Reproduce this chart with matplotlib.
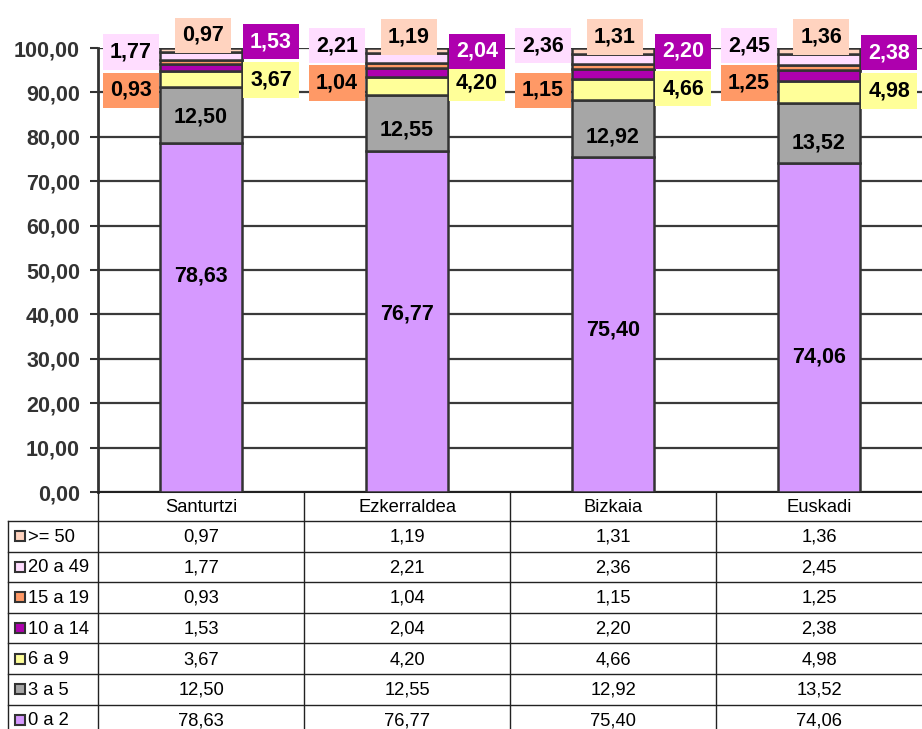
import matplotlib.pyplot as plt
from matplotlib.patches import Rectangle
from matplotlib.ticker import FuncFormatter

plt.rcParams['font.family'] = ['Liberation Sans', 'DejaVu Sans']

# data
categories = ['Santurtzi', 'Ezkerraldea', 'Bizkaia', 'Euskadi']
series = ['0 a 2', '3 a 5', '6 a 9', '10 a 14', '15 a 19', '20 a 49', '>= 50']
v_0_2 = [78.63, 76.77, 75.40, 74.06]
v_3_5 = [12.50, 12.55, 12.92, 13.52]
v_6_9 = [3.67, 4.20, 4.66, 4.98]
v_10_14 = [1.53, 2.04, 2.20, 2.38]
v_15_19 = [0.93, 1.04, 1.15, 1.25]
v_20_49 = [1.77, 2.21, 2.36, 2.45]
v_50 = [0.97, 1.19, 1.31, 1.36]
values = [v_0_2, v_3_5, v_6_9, v_10_14, v_15_19, v_20_49, v_50]

colors = ['#D699FF', '#A6A6A6', '#FFFF99', '#AE00AE', '#FF9966', '#FFDDFF', '#FFD3BF']
text_colors = ['black', 'black', 'black', 'white', 'black', 'black', 'black']

# label placement (x offset in category units, y in data units)
lab_dx = [0, 0, 0.34, 0.34, -0.34, -0.34, 0.01]
lab_y = [
    [48.6, 40.1, 36.5, 30.4],
    [84.5, 81.5, 80.0, 78.6],
    [92.8, 92.1, 90.8, 90.3],
    [101.4, 99.3, 99.3, 98.9],
    [90.5, 92.1, 90.5, 92.1],
    [99.1, 100.5, 100.5, 100.5],
    [102.9, 102.5, 102.5, 102.5],
]


def fmt(v):
    return f'{v:.2f}'.replace('.', ',')


W, H = 922, 729
fig = plt.figure(figsize=(W / 100, H / 100), dpi=100)

x0, x1, y_top, y_bot = 98, 922, 48, 492
ax = fig.add_axes([x0 / W, (H - y_bot) / H, (x1 - x0) / W, (y_bot - y_top) / H])

x = list(range(len(categories)))
bottom = [0] * len(categories)
for i, (name, vals) in enumerate(zip(series, values)):
    ax.bar(x, vals, width=0.4, bottom=bottom, color=colors[i],
           edgecolor='#333333', linewidth=1.8, zorder=3)
    for j, v in enumerate(vals):
        ax.text(x[j] + lab_dx[i], lab_y[i][j], fmt(v), ha='center', va='center',
                fontsize=15.5, fontweight='bold', color=text_colors[i], zorder=5,
                clip_on=False,
                bbox=dict(boxstyle='square,pad=0.33', facecolor=colors[i],
                          edgecolor='none'))
    bottom = [b + v for b, v in zip(bottom, vals)]

ax.set_xlim(-0.5, 3.5)
ax.set_ylim(0, 100)
ax.set_yticks(range(0, 101, 10))
ax.yaxis.set_major_formatter(FuncFormatter(lambda v, p: fmt(v)))
ax.tick_params(axis='y', length=6, width=1.5, color='#333333', labelsize=15.5,
               labelcolor='#333333', pad=7)
for lab in ax.get_yticklabels():
    lab.set_fontweight('bold')
ax.set_xticks([])
ax.yaxis.grid(True, color='#3a3a3a', linewidth=1.6, zorder=0)
ax.set_axisbelow(True)
for s in ['top', 'right']:
    ax.spines[s].set_visible(False)
ax.spines['left'].set_color('#333333')
ax.spines['left'].set_linewidth(2)
ax.spines['bottom'].set_color('#222222')
ax.spines['bottom'].set_linewidth(1.5)

# data table below the chart, in pixel coordinates
tax = fig.add_axes([0, 0, 1, (H - y_bot) / H])
tax.set_xlim(0, W)
tax.set_ylim(H, y_bot)
tax.axis('off')

col_w = (x1 - x0) / len(categories)
head_h = 29
row_h = 30.6
lc = '#222222'

for j, cat in enumerate(categories):
    tax.text(x0 + col_w * (j + 0.5), y_bot + head_h / 2 + 1, cat, ha='center',
             va='center', fontsize=13.2)
for k in range(len(categories)):
    tax.plot([x0 + col_w * k] * 2, [y_bot, H], color=lc, lw=1)
tax.plot([8, 8], [y_bot + head_h, H], color=lc, lw=1)

order = list(range(len(series)))[::-1]
for r, i in enumerate(order):
    ytop = y_bot + head_h + r * row_h
    tax.plot([8, W], [ytop, ytop], color=lc, lw=1)
    yc = ytop + row_h / 2
    tax.add_patch(Rectangle((15, yc - 5), 10, 10, facecolor=colors[i],
                            edgecolor='#333333', lw=1.5))
    tax.text(28, yc + 1, series[i], ha='left', va='center', fontsize=13.2)
    for j, v in enumerate(values[i]):
        tax.text(x0 + col_w * (j + 0.5), yc + 1, fmt(v), ha='center',
                 va='center', fontsize=13.2)

fig.savefig('out.png', dpi=100)
